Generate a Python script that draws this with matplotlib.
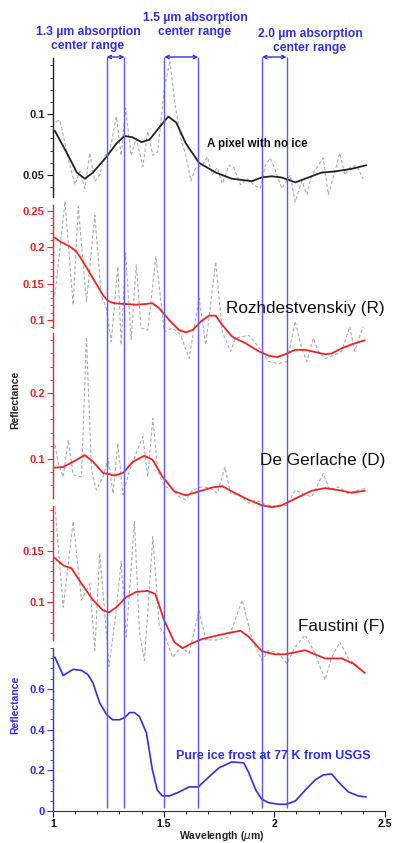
import matplotlib
matplotlib.use('Agg')
import matplotlib.pyplot as plt
import matplotlib.transforms as mtransforms
from matplotlib.ticker import FixedLocator, MultipleLocator

plt.rcParams['font.family'] = ['Liberation Sans', 'DejaVu Sans']

# ---- data ----
# pixel with no ice (black)
p1_wl = [1.009, 1.063, 1.108, 1.144, 1.18, 1.242, 1.287, 1.323, 1.359, 1.40, 1.436, 1.48, 1.521, 1.557,
         1.60, 1.66, 1.736, 1.808, 1.898, 1.943, 1.988, 2.033, 2.096, 2.154, 2.212, 2.275, 2.347, 2.414]
p1_fit = [0.086, 0.068, 0.052, 0.047, 0.052, 0.065, 0.076, 0.082, 0.081, 0.077, 0.079, 0.089, 0.098, 0.093,
          0.076, 0.060, 0.052, 0.047, 0.045, 0.048, 0.049, 0.048, 0.044, 0.048, 0.052, 0.053, 0.055, 0.058]
p1_raw_wl = [1.013, 1.031, 1.076, 1.099, 1.121, 1.144, 1.166, 1.189, 1.211, 1.233, 1.256, 1.286, 1.308, 1.328,
             1.353, 1.376, 1.406, 1.428, 1.451, 1.473, 1.503, 1.528, 1.552, 1.578, 1.600, 1.623, 1.645, 1.675,
             1.697, 1.720, 1.742, 1.765, 1.795, 1.817, 1.847, 1.877, 1.907, 1.937, 1.959, 1.982, 2.004, 2.034,
             2.072, 2.094, 2.124, 2.147, 2.169, 2.199, 2.221, 2.244, 2.274, 2.296, 2.319, 2.341, 2.371, 2.401]
p1_raw = [0.094, 0.095, 0.058, 0.042, 0.053, 0.039, 0.068, 0.045, 0.050, 0.066, 0.069, 0.098, 0.066, 0.105,
          0.066, 0.080, 0.057, 0.086, 0.066, 0.069, 0.121, 0.144, 0.107, 0.080, 0.066, 0.045, 0.056, 0.058,
          0.065, 0.050, 0.056, 0.043, 0.058, 0.056, 0.042, 0.047, 0.042, 0.039, 0.058, 0.064, 0.054, 0.039,
          0.050, 0.028, 0.045, 0.034, 0.050, 0.058, 0.064, 0.034, 0.053, 0.068, 0.050, 0.056, 0.058, 0.047]

# Rozhdestvenskiy (R)
p2_wl = [1.009, 1.031, 1.076, 1.106, 1.136, 1.181, 1.226, 1.249, 1.278, 1.323, 1.376, 1.42, 1.45, 1.48,
         1.525, 1.570, 1.60, 1.63, 1.668, 1.705, 1.735, 1.765, 1.81, 1.87, 1.93, 1.974, 2.012, 2.05, 2.094,
         2.139, 2.184, 2.229, 2.259, 2.304, 2.363, 2.408]
p2_fit = [0.213, 0.208, 0.201, 0.194, 0.180, 0.157, 0.134, 0.126, 0.123, 0.122, 0.121, 0.122, 0.123, 0.116,
          0.100, 0.086, 0.083, 0.086, 0.098, 0.106, 0.106, 0.093, 0.077, 0.068, 0.057, 0.051, 0.049, 0.053, 0.059,
          0.059, 0.056, 0.053, 0.054, 0.061, 0.068, 0.072]
p2_raw_wl = [1.009, 1.054, 1.091, 1.114, 1.151, 1.189, 1.218, 1.241, 1.263, 1.293, 1.308, 1.328, 1.353, 1.376,
             1.398, 1.428, 1.465, 1.503, 1.540, 1.578, 1.615, 1.66, 1.69, 1.735, 1.765, 1.802, 1.825, 1.855,
             1.885, 1.915, 1.944, 1.974, 2.019, 2.057, 2.094, 2.124, 2.147, 2.176, 2.199, 2.229, 2.274, 2.304,
             2.341, 2.363, 2.401]
p2_raw = [0.134, 0.263, 0.121, 0.256, 0.125, 0.244, 0.134, 0.116, 0.070, 0.173, 0.066, 0.192, 0.073, 0.176,
          0.089, 0.086, 0.187, 0.084, 0.089, 0.079, 0.047, 0.130, 0.066, 0.180, 0.084, 0.057, 0.075, 0.077,
          0.079, 0.068, 0.057, 0.043, 0.040, 0.043, 0.098, 0.061, 0.043, 0.075, 0.057, 0.047, 0.052, 0.057,
          0.091, 0.057, 0.091]

# De Gerlache (D)
p3_wl = [1.009, 1.046, 1.091, 1.144, 1.181, 1.226, 1.278, 1.316, 1.361, 1.413, 1.45, 1.495, 1.548, 1.60,
         1.66, 1.72, 1.765, 1.825, 1.885, 1.944, 1.99, 2.034, 2.094, 2.169, 2.229, 2.289, 2.349, 2.408]
p3_fit = [0.087, 0.088, 0.096, 0.106, 0.096, 0.079, 0.075, 0.079, 0.096, 0.105, 0.099, 0.073, 0.051, 0.045,
          0.051, 0.057, 0.059, 0.048, 0.038, 0.030, 0.027, 0.030, 0.040, 0.052, 0.056, 0.053, 0.049, 0.052]
p3_raw_wl = [1.009, 1.024, 1.046, 1.069, 1.091, 1.129, 1.151, 1.174, 1.196, 1.226, 1.249, 1.271, 1.293, 1.316,
             1.346, 1.376, 1.406, 1.428, 1.451, 1.473, 1.503, 1.533, 1.570, 1.600, 1.630, 1.675, 1.712, 1.742,
             1.777, 1.802, 1.840, 1.885, 1.915, 1.944, 1.974, 2.019, 2.057, 2.094, 2.124, 2.169, 2.221, 2.251,
             2.289, 2.334, 2.379, 2.416]
p3_raw = [0.121, 0.094, 0.073, 0.129, 0.076, 0.073, 0.285, 0.083, 0.053, 0.073, 0.101, 0.048, 0.124, 0.046,
          0.083, 0.109, 0.134, 0.073, 0.162, 0.083, 0.058, 0.056, 0.043, 0.038, 0.053, 0.058, 0.056, 0.048,
          0.088, 0.048, 0.046, 0.033, 0.038, 0.033, 0.030, 0.028, 0.030, 0.053, 0.048, 0.043, 0.078, 0.053,
          0.058, 0.048, 0.053, 0.056]

# Faustini (F)
p4_wl = [1.009, 1.046, 1.084, 1.129, 1.181, 1.226, 1.253, 1.286, 1.331, 1.376, 1.428, 1.462, 1.503, 1.548,
         1.585, 1.63, 1.675, 1.735, 1.795, 1.847, 1.885, 1.944, 2.004, 2.049, 2.094, 2.139, 2.184, 2.229,
         2.304, 2.356, 2.408]
p4_fit = [0.143, 0.136, 0.133, 0.118, 0.102, 0.092, 0.090, 0.095, 0.105, 0.110, 0.111, 0.108, 0.082, 0.061,
          0.055, 0.060, 0.064, 0.067, 0.070, 0.072, 0.066, 0.052, 0.049, 0.049, 0.051, 0.053, 0.049, 0.045,
          0.045, 0.040, 0.031]
p4_raw_wl = [1.009, 1.046, 1.091, 1.129, 1.166, 1.189, 1.211, 1.233, 1.253, 1.286, 1.308, 1.331, 1.368, 1.391,
             1.413, 1.451, 1.480, 1.503, 1.540, 1.578, 1.615, 1.660, 1.690, 1.735, 1.795, 1.855, 1.900, 1.944,
             1.974, 2.019, 2.057, 2.094, 2.139, 2.184, 2.229, 2.259, 2.296, 2.334, 2.379, 2.408]
p4_raw = [0.194, 0.095, 0.179, 0.102, 0.118, 0.053, 0.148, 0.092, 0.037, 0.092, 0.140, 0.066, 0.179, 0.069,
          0.043, 0.164, 0.076, 0.069, 0.046, 0.056, 0.050, 0.092, 0.063, 0.063, 0.066, 0.102, 0.063, 0.043,
          0.053, 0.050, 0.040, 0.056, 0.068, 0.050, 0.024, 0.046, 0.061, 0.045, 0.037, 0.030]

# pure ice frost at 77 K (USGS)
ice_wl = [1.009, 1.046, 1.09, 1.129, 1.157, 1.18, 1.211, 1.242, 1.269, 1.301, 1.323, 1.346, 1.368, 1.391,
          1.422, 1.449, 1.471, 1.494, 1.525, 1.561, 1.615, 1.656, 1.705, 1.75, 1.808, 1.862, 1.885, 1.916,
          1.943, 1.974, 2.019, 2.055, 2.096, 2.14, 2.185, 2.221, 2.259, 2.289, 2.334, 2.379, 2.414]
ice_refl = [0.754, 0.665, 0.695, 0.69, 0.67, 0.63, 0.53, 0.473, 0.448, 0.448, 0.458, 0.483, 0.483, 0.463,
            0.384, 0.202, 0.103, 0.074, 0.074, 0.089, 0.118, 0.118, 0.168, 0.212, 0.241, 0.236, 0.187, 0.103,
            0.058, 0.041, 0.033, 0.033, 0.05, 0.103, 0.153, 0.177, 0.182, 0.143, 0.094, 0.074, 0.069]

band_edges = [1.242, 1.323, 1.503, 1.656, 1.944, 2.055]
band_labels = ['1.3 µm absorption\ncenter range', '1.5 µm absorption\ncenter range',
               '2.0 µm absorption\ncenter range']

x_ticks = [1, 1.5, 2, 2.5]
x_ticklabels = ['1', '1.5', '2', '2.5']

W, H = 393, 843
RED = '#ee2424'
BLUE = '#2f2fe0'
LINEBLUE = '#5a5aec'
GRAY = '#ababab'

fig = plt.figure(figsize=(W / 100, H / 100), dpi=100)


def fx(px):
    return px / W


def fy(py):
    return 1 - py / H


def make_ax(top, bottom, ylim, ticks, labels, color, minor):
    ax = fig.add_axes([fx(53), fy(bottom), fx(385) - fx(53), (bottom - top) / H])
    ax.set_facecolor('none')
    ax.set_xlim(1, 2.5)
    ax.set_ylim(*ylim)
    for s in ['top', 'right', 'bottom']:
        ax.spines[s].set_visible(False)
    ax.spines['left'].set_color(color)
    ax.spines['left'].set_linewidth(1.0)
    ax.yaxis.set_major_locator(FixedLocator(ticks))
    ax.set_yticklabels(labels, fontsize=8, fontweight='bold', color=color)
    ax.yaxis.set_minor_locator(MultipleLocator(minor))
    ax.tick_params(axis='y', which='major', direction='out', length=4, width=0.8, color=color, pad=2)
    ax.tick_params(axis='y', which='minor', direction='out', length=2, width=0.6, color=color)
    ax.tick_params(axis='x', which='both', bottom=False, labelbottom=False)
    return ax


ax1 = make_ax(58, 197, (0.032, 0.146), [0.05, 0.1], ['0.05', '0.1'], '#222222', 0.01)
ax2 = make_ax(205, 328, (0.089, 0.258), [0.1, 0.15, 0.2, 0.25], ['0.1', '0.15', '0.2', '0.25'], RED, 0.01)
ax3 = make_ax(333, 498, (0.041, 0.291), [0.1, 0.2], ['0.1', '0.2'], RED, 0.02)
ax4 = make_ax(506, 640, (0.063, 0.194), [0.1, 0.15], ['0.1', '0.15'], RED, 0.01)
ax5 = make_ax(648, 811, (0, 0.80), [0, 0.2, 0.4, 0.6], ['0', '0.2', '0.4', '0.6'], BLUE, 0.05)

dash = dict(color=GRAY, lw=0.8, ls=(0, (3, 2)), clip_on=False)
ax1.plot(p1_raw_wl, p1_raw, **dash)
ax1.plot(p1_wl, p1_fit, color='#222222', lw=1.3, clip_on=False)
ax2.plot(p2_raw_wl, p2_raw, **dash)
ax2.plot(p2_wl, p2_fit, color=RED, lw=1.3, clip_on=False)
ax3.plot(p3_raw_wl, p3_raw, **dash)
ax3.plot(p3_wl, p3_fit, color=RED, lw=1.3, clip_on=False)
ax4.plot(p4_raw_wl, p4_raw, **dash)
ax4.plot(p4_wl, p4_fit, color=RED, lw=1.3, clip_on=False)
ax5.plot(ice_wl, ice_refl, color=BLUE, lw=1.2, clip_on=False)

# bottom x axis
ax5.spines['bottom'].set_visible(True)
ax5.spines['bottom'].set_color('#333333')
ax5.xaxis.set_major_locator(FixedLocator(x_ticks))
ax5.set_xticklabels(x_ticklabels, fontsize=7.5, fontweight='bold')
ax5.xaxis.set_minor_locator(MultipleLocator(0.1))
ax5.tick_params(axis='x', which='major', bottom=True, labelbottom=True, direction='out', length=4, width=0.8, pad=2)
ax5.tick_params(axis='x', which='minor', bottom=True, direction='out', length=2, width=0.6)

# absorption band lines across all panels
trans = mtransforms.blended_transform_factory(ax5.transData, fig.transFigure)
ax5.vlines(band_edges, fy(808), fy(57), transform=trans, colors=LINEBLUE, lw=1.0, clip_on=False, zorder=5)
for i in range(3):
    x0, x1 = band_edges[2 * i], band_edges[2 * i + 1]
    ax5.annotate('', xy=(x1, fy(57)), xytext=(x0, fy(57)), xycoords=trans, textcoords=trans,
                 arrowprops=dict(arrowstyle='<->', color=BLUE, lw=1.0, shrinkA=0, shrinkB=0,
                                 mutation_scale=6), annotation_clip=False)

txt = dict(fontsize=8.7, fontweight='bold', color=BLUE, ha='center', va='center', linespacing=1.15)
fig.text(fx(88), fy(39), band_labels[0], **txt)
fig.text(fx(195), fy(25), band_labels[1], **txt)
fig.text(fx(310), fy(41), band_labels[2], **txt)

fig.text(fx(207), fy(144), 'A pixel with no ice', fontsize=8.3, fontweight='bold', color='#111111', va='center')
fig.text(fx(385), fy(308), 'Rozhdestvenskiy (R)', fontsize=12.3, color='#111111', ha='right', va='center')
fig.text(fx(385), fy(460), 'De Gerlache (D)', fontsize=12.3, color='#111111', ha='right', va='center')
fig.text(fx(385), fy(626), 'Faustini (F)', fontsize=12.3, color='#111111', ha='right', va='center')
fig.text(fx(176), fy(756), 'Pure ice frost at 77 K from USGS', fontsize=9, fontweight='bold', color=BLUE,
         va='center')

fig.text(fx(15), fy(400), 'Reflectance', fontsize=7.5, fontweight='bold', color='#222222', rotation=90,
         ha='center', va='center')
fig.text(fx(15), fy(705), 'Reflectance', fontsize=7.5, fontweight='bold', color=BLUE, rotation=90,
         ha='center', va='center')
fig.text(fx(222), fy(836), 'Wavelength ($\\mu$m)', fontsize=7.5, fontweight='bold', color='#222222',
         ha='center', va='center')

fig.savefig('out.png', dpi=100)
